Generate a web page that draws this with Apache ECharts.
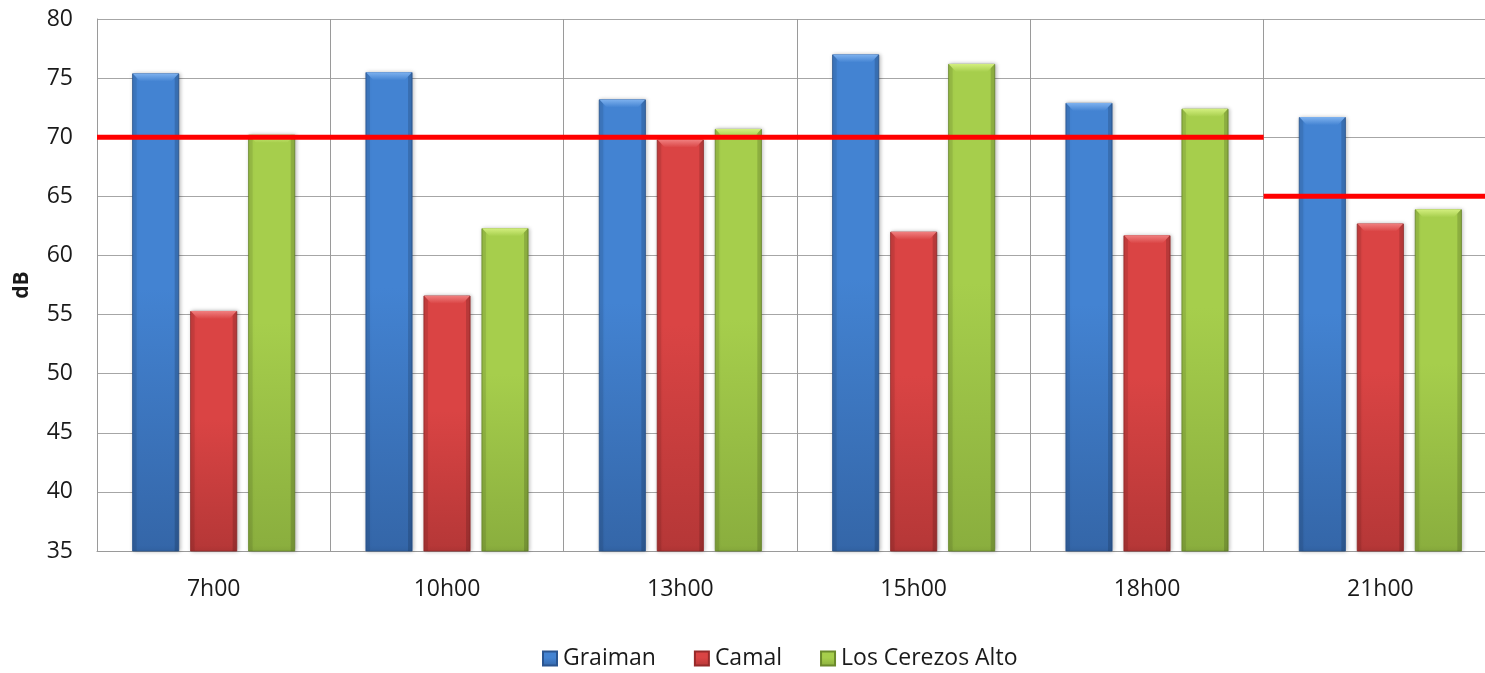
<!DOCTYPE html>
<html>
<head>
<meta charset="utf-8">
<style>
  html, body { margin: 0; padding: 0; background: #ffffff; }
  #chart { width: 1485px; height: 673px; }
</style>
<script src="https://cdn.jsdelivr.net/npm/echarts@6/dist/echarts.min.js"></script>
</head>
<body>
<div id="chart"></div>
<script>
// Noise levels by hour of day at three measuring points (dB)
const hours = ['7h00', '10h00', '13h00', '15h00', '18h00', '21h00'];
const graiman = [75.4, 75.5, 73.2, 77.0, 72.9, 71.7];
const camal = [55.3, 56.6, 69.8, 62.0, 61.7, 62.7];
const cerezos = [70.2, 62.3, 70.7, 76.2, 72.4, 63.9];
// Permitted limits: daytime limit for the first five slots, night limit for the last
const dayLimit = 70;
const nightLimit = 65;
const nightStartIndex = 5;
const yTicks = { min: 35, max: 80, step: 5 };

const font = '"Open Sans", "Liberation Sans", sans-serif';
const BAR_W = 47;
const BAR_GAP = 11;

const palettes = [
  { top: '#4383d2', bottom: '#3466a8', edge: '#2a5590', cap: '#7fb2ef' },
  { top: '#da4444', bottom: '#b53737', edge: '#962a2a', cap: '#f08080' },
  { top: '#a6ce4c', bottom: '#8aae3e', edge: '#6b8a2c', cap: '#d3ef7f' }
];

function barSeries(name, data, p) {
  return {
    name: name,
    type: 'bar',
    data: data,
    barWidth: BAR_W,
    barGap: (BAR_GAP / BAR_W * 100).toFixed(1) + '%',
    itemStyle: {
      color: new echarts.graphic.LinearGradient(0, 0, 0, 1, [
        { offset: 0, color: p.top },
        { offset: 0.45, color: p.top },
        { offset: 1, color: p.bottom }
      ]),
      borderColor: p.edge,
      borderWidth: 0.8,
      shadowColor: 'rgba(0,0,0,0.28)',
      shadowBlur: 4,
      shadowOffsetX: 1
    },
    z: 2
  };
}

// Bevelled top face and side shading drawn over each bar
function capSeries(data, p, slot) {
  const offset = (slot - 1) * (BAR_W + BAR_GAP);
  return {
    type: 'custom',
    data: data.map((v, i) => [i, v]),
    z: 3,
    silent: true,
    tooltip: { show: false },
    renderItem: function (params, api) {
      const top = api.coord([api.value(0), api.value(1)]);
      const base = api.coord([api.value(0), yTicks.min]);
      const x0 = top[0] + offset - BAR_W / 2;
      const x1 = x0 + BAR_W;
      const y0 = top[1];
      const b = 8;
      return {
        type: 'group',
        children: [
          {
            type: 'rect',
            shape: { x: x0 + 0.5, y: y0, width: 4, height: base[1] - y0 },
            style: { fill: 'rgba(0,0,0,0.08)' }
          },
          {
            type: 'rect',
            shape: { x: x1 - 4.5, y: y0, width: 4, height: base[1] - y0 },
            style: { fill: 'rgba(0,0,0,0.14)' }
          },
          {
            type: 'polygon',
            shape: { points: [[x0 + 0.5, y0], [x1 - 0.5, y0], [x1 - b, y0 + b], [x0 + b, y0 + b]] },
            style: {
              fill: new echarts.graphic.LinearGradient(0, 0, 0, 1, [
                { offset: 0, color: p.cap },
                { offset: 1, color: p.top }
              ])
            }
          }
        ]
      };
    }
  };
}

// Limit segments expressed in category-boundary units on a hidden value axis
const n = hours.length;
const dayLine = [[0, dayLimit], [nightStartIndex, dayLimit]];
const nightLine = [[nightStartIndex, nightLimit], [n, nightLimit]];

const chart = echarts.init(document.getElementById('chart'));
chart.setOption({
  animation: false,
  grid: { left: 97, top: 19, width: 1400, bottom: 122, containLabel: false, outerBoundsMode: 'none' },
  legend: {
    bottom: -2,
    left: 537,
    itemWidth: 14,
    itemHeight: 14,
    itemGap: 38,
    icon: 'rect',
    textStyle: { fontFamily: font, fontSize: 23, color: '#1a1a1a', padding: [0, 0, 0, 1] },
    data: ['Graiman', 'Camal', 'Los Cerezos Alto']
  },
  xAxis: [
    {
      type: 'category',
      data: hours,
      boundaryGap: true,
      axisLine: { show: true, lineStyle: { color: '#9a9a9a', width: 1 } },
      axisTick: { show: false },
      axisLabel: { fontFamily: font, fontSize: 23, color: '#1a1a1a', margin: 27 },
      splitLine: { show: true, interval: 0, lineStyle: { color: '#9a9a9a', width: 1 } }
    },
    {
      type: 'value',
      min: 0,
      max: n,
      show: false
    }
  ],
  yAxis: {
    type: 'value',
    min: yTicks.min,
    max: yTicks.max,
    interval: yTicks.step,
    name: 'dB',
    nameLocation: 'middle',
    nameGap: 64,
    nameRotate: 90,
    nameTextStyle: { fontFamily: font, fontSize: 21, fontWeight: 'bold', color: '#1a1a1a' },
    axisLine: { show: true, lineStyle: { color: '#9a9a9a', width: 1 } },
    axisTick: { show: false },
    axisLabel: { fontFamily: font, fontSize: 23, color: '#1a1a1a', margin: 24 },
    splitLine: { show: true, lineStyle: { color: '#a6a6a6', width: 1.2 } }
  },
  series: [
    barSeries('Graiman', graiman, palettes[0]),
    barSeries('Camal', camal, palettes[1]),
    barSeries('Los Cerezos Alto', cerezos, palettes[2]),
    capSeries(graiman, palettes[0], 0),
    capSeries(camal, palettes[1], 1),
    capSeries(cerezos, palettes[2], 2),
    {
      name: 'day-limit',
      type: 'line',
      xAxisIndex: 1,
      data: dayLine,
      symbol: 'none',
      lineStyle: { color: '#ff0000', width: 5 },
      z: 5,
      silent: true
    },
    {
      name: 'night-limit',
      type: 'line',
      xAxisIndex: 1,
      data: nightLine,
      symbol: 'none',
      lineStyle: { color: '#ff0000', width: 5 },
      z: 5,
      silent: true
    }
  ]
});
</script>
</body>
</html>
